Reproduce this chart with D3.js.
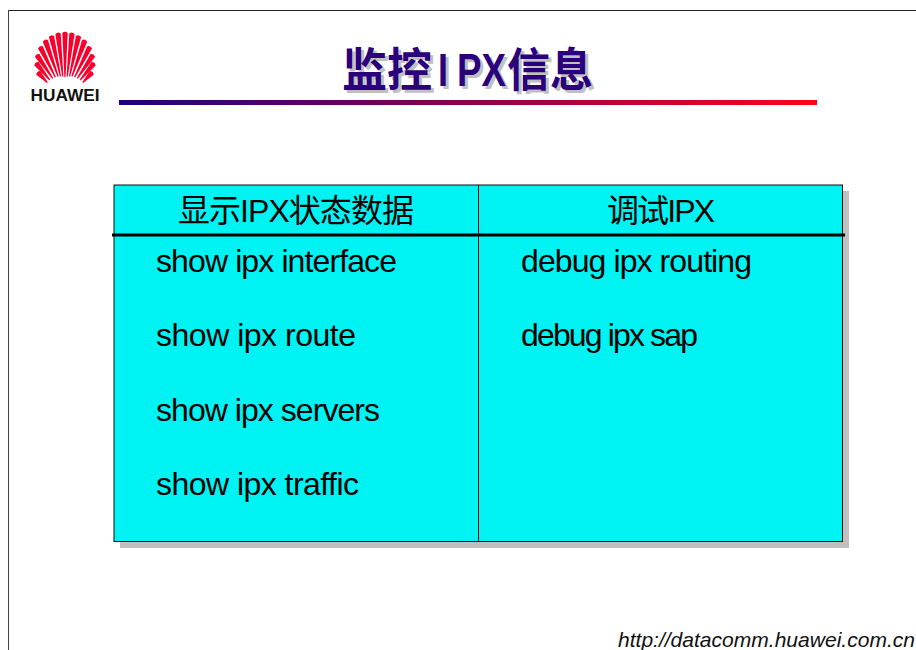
<!DOCTYPE html>
<html>
<head>
<meta charset="utf-8">
<script src="https://cdn.jsdelivr.net/npm/d3@7"></script>
<style>
html, body { margin: 0; padding: 0; background: #fff; overflow: hidden; }
svg { display: block; }
text { font-family: "Liberation Sans", "Noto Sans CJK SC", sans-serif; }
</style>
</head>
<body>
<script>
var titleParts = ["监控", "I", "PX", "信息"];
var titleX = [342, 438, 457, 507];
var titleWidth = [90, 10, 49, 86];
var columnHeads = ["显示IPX状态数据", "调试IPX"];
var leftCommands = ["show ipx interface", "show ipx route", "show ipx servers", "show ipx traffic"];
var rightCommands = ["debug ipx routing", "debug ipx sap"];
var rowIndex = [0, 1, 2, 3];
// fan blades, degrees from straight up: where the tip sits and where the root sits
var tipAngles = [-110, -92, -76, -59, -43, -28, -14, 0, 14, 28, 43, 59, 76, 92, 110];
var rootAngles = [-62, -52, -42, -33, -24, -16, -8, 0, 8, 16, 24, 33, 42, 52, 62];

var svg = d3.select("body").append("svg").attr("width", 916).attr("height", 650);

// slide border, only top and left show
svg.append("rect").attr("width", 916).attr("height", 650).attr("fill", "#fff");
svg.append("line").attr("x1", 8.5).attr("y1", 10.5).attr("x2", 916).attr("y2", 10.5).attr("stroke", "#222");
svg.append("line").attr("x1", 8.5).attr("y1", 10).attr("x2", 8.5).attr("y2", 650).attr("stroke", "#444");

function bladePath(d, i) {
    var ta = d * Math.PI / 180, ra = rootAngles[i] * Math.PI / 180;
    var rootR = 15 + 5 * Math.abs(rootAngles[i]) / 62;
    var tx = 65 + 29.5 * Math.sin(ta), ty = 61.5 - 30 * Math.cos(ta);
    var rx = 65 + rootR * Math.sin(ra), ry = 92 - rootR * Math.cos(ra);
    var len = Math.hypot(tx - rx, ty - ry);
    var ux = (tx - rx) / len, uy = (ty - ry) / len;
    var px = -uy, py = ux;
    var w = 2.7;
    return "M" + (rx + px * 0.6) + "," + (ry + py * 0.6) +
        " L" + (tx + px * w - ux * 1.5) + "," + (ty + py * w - uy * 1.5) +
        " Q" + (tx + ux) + "," + (ty + uy) + " " + (tx - px * w - ux * 1.5) + "," + (ty - py * w - uy * 1.5) +
        " L" + (rx - px * 0.6) + "," + (ry - py * 0.6) + " Z";
}
svg.append("g").selectAll("path").data(tipAngles).enter().append("path")
    .attr("d", bladePath)
    .attr("fill", "#f9002c");
svg.append("text").attr("x", 65).attr("y", 101).attr("text-anchor", "middle")
    .attr("font-size", 16).attr("font-weight", "bold").attr("fill", "#111")
    .attr("textLength", 69).attr("lengthAdjust", "spacingAndGlyphs").text("HUAWEI");

// title rule gradient
var grad = svg.append("defs").append("linearGradient").attr("id", "rule");
grad.append("stop").attr("offset", "0%").attr("stop-color", "#1d0080");
grad.append("stop").attr("offset", "100%").attr("stop-color", "#ff0018");
svg.append("rect").attr("x", 119).attr("y", 100).attr("width", 698).attr("height", 5).attr("fill", "url(#rule)");

// title, shadow first
function drawTitle(dx, dy, colour) {
    svg.append("g").selectAll("text").data(titleParts).enter().append("text")
        .attr("x", function (d, i) { return titleX[i] + dx; })
        .attr("y", 86 + dy)
        .attr("font-size", function (d, i) { return i == 1 || i == 2 ? 47 : 46; })
        .attr("font-weight", "bold").attr("fill", colour)
        .attr("textLength", function (d, i) { return titleWidth[i]; })
        .attr("lengthAdjust", "spacingAndGlyphs")
        .text(function (d) { return d; });
}
drawTitle(3, 3, "#c0c0c0");
drawTitle(0, 0, "#2a007c");

// table
var x = d3.scaleLinear().domain([0, 1]).range([114, 842.5]);
var colX = [x(0), 478.5];
var rowY = d3.scalePoint().domain(rowIndex).range([272, 495]);

svg.append("rect").attr("x", 120).attr("y", 191).attr("width", 729).attr("height", 357).attr("fill", "#c0c0c0");
svg.append("rect").attr("x", x(0)).attr("y", 185).attr("width", x(1) - x(0)).attr("height", 356.5)
    .attr("fill", "#00f3f3").attr("stroke", "#111").attr("stroke-width", 1);
svg.append("line").attr("x1", colX[1]).attr("y1", 185).attr("x2", colX[1]).attr("y2", 541.5).attr("stroke", "#111");
svg.append("line").attr("x1", 112).attr("y1", 235).attr("x2", 845).attr("y2", 235)
    .attr("stroke", "#000").attr("stroke-width", 3);

svg.selectAll(".head").data(columnHeads).enter().append("text")
    .attr("class", "head")
    .attr("x", function (d, i) { return i == 0 ? 296 : 661; })
    .attr("y", 222).attr("text-anchor", "middle")
    .attr("font-size", 32).attr("fill", "#000")
    .attr("textLength", function (d, i) { return i == 0 ? 236 : 108; })
    .text(function (d) { return d; });

svg.selectAll(".left").data(leftCommands).enter().append("text")
    .attr("class", "left").attr("x", 156)
    .attr("y", function (d, i) { return rowY(i); })
    .attr("font-size", 32).attr("fill", "#000")
    .attr("textLength", function (d, i) { return [241, 200, 224, 203][i]; })
    .text(function (d) { return d; });

svg.selectAll(".right").data(rightCommands).enter().append("text")
    .attr("class", "right").attr("x", 521)
    .attr("y", function (d, i) { return rowY(i); })
    .attr("font-size", 32).attr("fill", "#000")
    .attr("textLength", function (d, i) { return [231, 177][i]; })
    .text(function (d) { return d; });

// the reference crops this line's descenders at the page edge too
svg.append("text").attr("x", 618).attr("y", 647)
    .attr("font-size", 21).attr("font-style", "italic").attr("fill", "#111")
    .attr("textLength", 297).attr("lengthAdjust", "spacingAndGlyphs")
    .text("http://datacomm.huawei.com.cn");
</script>
</body>
</html>
